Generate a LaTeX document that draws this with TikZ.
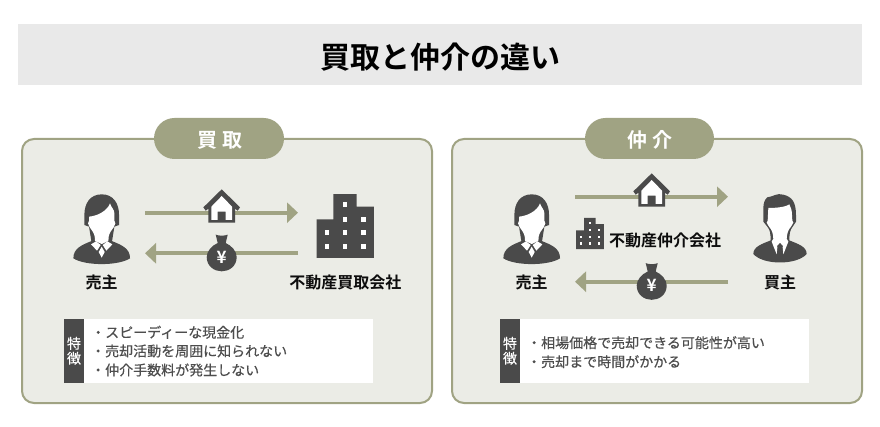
\documentclass[tikz,border=0pt]{standalone}
\usepackage{fontspec}
\setmainfont{Noto Sans CJK JP}[BoldFont={Noto Sans CJK JP Bold}]
\newfontfamily\medfont{Noto Sans CJK JP}[FakeBold=0.35]
\usetikzlibrary{arrows.meta}
\definecolor{olive}{HTML}{A0A383}
\definecolor{panelbg}{HTML}{EBECE6}
\definecolor{barbg}{HTML}{E9E9E9}
\definecolor{ink}{HTML}{4A4A4A}
\definecolor{listink}{HTML}{4D4D4D}
\newcommand{\fs}[1]{\fontsize{#1}{#1}\selectfont}
\tikzset{
  panel/.style={draw=olive,line width=2pt,fill=panelbg,rounded corners=12pt},
  pill/.style={fill=olive,rounded corners=20.5pt,draw=none},
  flow/.style={draw=olive,line width=4pt,-{Triangle[length=11pt,width=20pt]}},
  actor/.style={inner sep=0pt,font=\fs{16}\bfseries,text=black!95},
  listline/.style={inner sep=0pt,anchor=west,font=\medfont\fs{14},text=listink},
  tag/.style={inner sep=0pt,font=\medfont\fs{14},text=white,align=center},
}
\newcommand{\womanicon}[2]{\begin{scope}[shift={(#1,#2)},x=0.3333pt,y=-0.3333pt]
  \fill[ink] (-85,85) .. controls (-85,55) and (-60,45) .. (-30,33) -- (30,33) .. controls (60,45) and (85,55) .. (85,85) .. controls (50,108) and (-50,108) .. (-85,85) -- cycle;
  \fill[ink] (0,-107) .. controls (35,-107) and (52,-80) .. (52,-45) -- (52,-15) -- (38,-10) -- (30,40) -- (-30,40) -- (-38,-10) -- (-52,-15) -- (-52,-45) .. controls (-52,-80) and (-35,-107) .. (0,-107) -- cycle;
  \fill[white] (25,-80) .. controls (28,-68) and (38,-62) .. (38,-50) -- (38,-28) -- (41,-20) -- (36,-8) .. controls (30,0) and (22,10) .. (21,20) -- (20,33) -- (0,42) -- (-20,33) -- (-21,20) .. controls (-22,10) and (-30,0) .. (-36,-8) -- (-41,-20) -- (-38,-28) -- (-38,-40) .. controls (-15,-42) and (15,-55) .. (25,-80) -- cycle;
  \fill[white] (-32,43) -- (-17,34) -- (-3,45) -- (-14,62) -- cycle;
  \fill[white] (32,43) -- (17,34) -- (3,45) -- (14,62) -- cycle;
  \fill[white] (0,50) -- (9,66) -- (0,83) -- (-9,66) -- cycle;
\end{scope}}
\newcommand{\manicon}[2]{\begin{scope}[shift={(#1,#2)},x=0.3333pt,y=-0.3333pt]
  \fill[ink] (-80,72) .. controls (-80,50) and (-55,42) .. (-25,30) -- (25,30) .. controls (55,42) and (80,50) .. (80,72) .. controls (50,106) and (-50,106) .. (-80,72) -- cycle;
  \fill[ink] (-38,-98) .. controls (-20,-100) and (-10,-112) .. (10,-106) .. controls (35,-100) and (48,-85) .. (48,-45) -- (48,-25) -- (38,-10) .. controls (30,0) and (28,10) .. (28,34) -- (-28,34) .. controls (-28,10) and (-30,0) .. (-38,-10) -- (-50,-25) -- (-50,-65) .. controls (-50,-80) and (-46,-92) .. (-38,-98) -- cycle;
  \fill[white] (-35,-66) .. controls (-15,-66) and (15,-68) .. (28,-77) .. controls (32,-68) and (36,-60) .. (36,-45) -- (37,-28) -- (40,-22) -- (33,-10) .. controls (24,0) and (21,10) .. (20,26) -- (25,35) -- (10,73) -- (8,52) -- (9,48) -- (0,38) -- (-9,48) -- (-8,52) -- (-10,73) -- (-25,35) -- (-20,26) .. controls (-21,10) and (-24,0) .. (-33,-10) -- (-40,-22) -- (-37,-28) -- cycle;
\end{scope}}
\newcommand{\houseicon}[2]{\begin{scope}[shift={(#1,#2)},x=0.3333pt,y=-0.3333pt]
  \fill[ink] (0,-50) -- (55,4) -- (48,14) -- (40,8) -- (40,50) -- (-40,50) -- (-40,8) -- (-48,14) -- (-55,4) -- cycle;
  \fill[white] (0,-30) -- (31,2) -- (31,42) -- (12,42) -- (12,17) -- (-12,17) -- (-12,42) -- (-31,42) -- (-31,2) -- cycle;
\end{scope}}
\newcommand{\bagicon}[2]{\begin{scope}[shift={(#1,#2)},x=0.3333pt,y=-0.3333pt]
  \fill[ink] (-18,-55) .. controls (-8,-51) and (8,-51) .. (18,-55) -- (12,-30) .. controls (30,-22) and (45,-5) .. (45,12) .. controls (45,40) and (22,55) .. (0,55) .. controls (-22,55) and (-45,40) .. (-45,12) .. controls (-45,-5) and (-30,-22) .. (-12,-30) -- cycle;
  \node[inner sep=0pt,text=white,font=\fs{17}\bfseries] at (0,13) {¥};
\end{scope}}
\newcommand{\buildingicon}[3]{\begin{scope}[shift={(#1,#2)},x=#3*0.3333pt,y=-#3*0.3333pt]
  \fill[ink] (-36,-96) -- (34,-96) -- (34,-58) -- (86,-58) -- (86,96) -- (-86,96) -- (-86,-20) -- (-36,-20) -- cycle;
  \foreach \wx/\wy in {0/-64, 0/-20,55/-20, -55/20,0/20,55/20, -55/62,0/62,55/62}
    \fill[white] (\wx-6.5,\wy-7.5) rectangle (\wx+6.5,\wy+7.5);
\end{scope}}
\begin{document}
\begin{tikzpicture}[x=1pt,y=-1pt]
\useasboundingbox (0,0) rectangle (880,427);
\fill[white] (0,0) rectangle (880,427);
% title
\fill[barbg] (18,24) rectangle (862,85);
\node[inner sep=0pt,font=\fs{30}\bfseries,text=black] (title) at (440,57) {買取と仲介の違い};
% panels
\draw[panel] (22,139) rectangle (432,403);
\draw[panel] (452,139) rectangle (862,403);
\fill[pill] (154,118) rectangle (284,159);
\fill[pill] (585,118) rectangle (714,159);
\node[inner sep=0pt,text=white,font={\fs{20}\bfseries\addfontfeatures{LetterSpace=25}}] (badgeA) at (219.5,140) {買取};
\node[inner sep=0pt,text=white,font={\fs{20}\bfseries\addfontfeatures{LetterSpace=25}}] (badgeB) at (650,140) {仲介};
% left panel connectors
\coordinate (a1s) at (145,212.7); \coordinate (a1e) at (298,212.7);
\coordinate (a2s) at (298,253.3); \coordinate (a2e) at (145,253.3);
\draw[flow] (a1s) -- (a1e);
\draw[flow] (a2s) -- (a2e);
\womanicon{101.7}{230}
\houseicon{221.7}{206}
\bagicon{221.7}{253}
\buildingicon{345.3}{226}{1}
\node[actor] (sellerA) at (101.7,282.7) {売主};
\node[actor] (buyerCo) at (345.3,282.7) {不動産買取会社};
% right panel connectors
\coordinate (b1s) at (575,196.7); \coordinate (b1e) at (728,196.7);
\coordinate (b2s) at (728,281.7); \coordinate (b2e) at (575,281.7);
\draw[flow] (b1s) -- (b1e);
\draw[flow] (b2s) -- (b2e);
\womanicon{531.7}{230}
\manicon{780}{230}
\houseicon{651.7}{190}
\bagicon{651.7}{281.5}
\buildingicon{590}{233.5}{0.485}
\node[actor] (sellerB) at (531.7,282.7) {売主};
\node[actor] (buyerB) at (780,282.7) {買主};
\node[actor] (agent) at (665,240.5) {不動産仲介会社};
% feature boxes
\fill[white] (84,319) rectangle (372.7,382.7);
\fill[ink] (64,319) rectangle (84,382.7);
\node[tag] (tagA1) at (74,343.3) {特};
\node[tag] (tagA2) at (74,358.3) {徴};
\node[listline] (la1) at (91,332.3) {・スピーディーな現金化};
\node[listline] (la2) at (91,351) {・売却活動を周囲に知られない};
\node[listline] (la3) at (91,370) {・仲介手数料が発生しない};
\fill[white] (520,319) rectangle (809,382.7);
\fill[ink] (499.7,319) rectangle (520,382.7);
\node[tag] (tagB1) at (510,343.3) {特};
\node[tag] (tagB2) at (510,358.3) {徴};
\node[listline] (lb1) at (527,342.7) {・相場価格で売却できる可能性が高い};
\node[listline] (lb2) at (527,361.7) {・売却まで時間がかかる};
\end{tikzpicture}
\end{document}
